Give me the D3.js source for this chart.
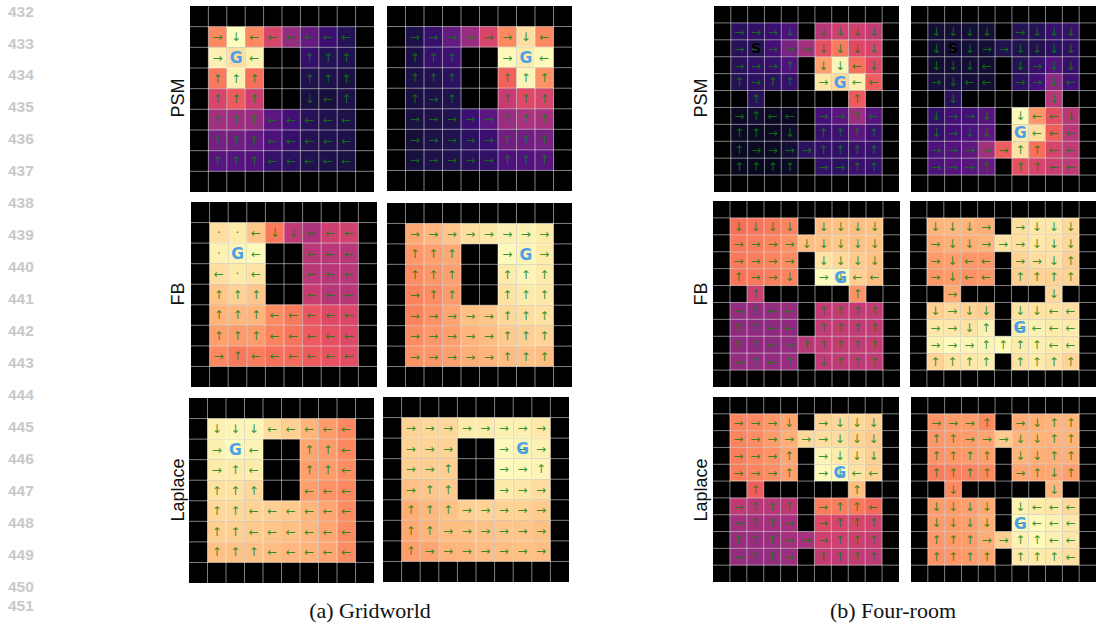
<!DOCTYPE html>
<html>
<head>
<meta charset="utf-8">
<script src="https://cdn.jsdelivr.net/npm/d3@7"></script>
<style>
  html, body { margin: 0; padding: 0; background: #fff; overflow: hidden; }
</style>
</head>
<body>
<svg id="chart" width="1097" height="623"></svg>
<script>
// value of each open cell (0-100 on the magma scale), -1 is a wall
const W = -1

const gridPsmLeft = [
    [75, 100, 75, 58, 42, 30, 20, 15],
    [97, 93, 97, W, W, 19, 15, 14],
    [72, 97, 70, W, W, 14, 13, 12],
    [58, 65, 55, W, W, 12, 11, 13],
    [45, 44, 42, 28, 22, 16, 14, 13],
    [34, 33, 30, 24, 19, 15, 14, 13],
    [27, 26, 25, 19, 17, 14, 13, 12]
]
const gridPsmRight = [
    [13, 19, 30, 43, 58, 75, 93, 75],
    [13, 19, 21, W, W, 99, 96, 99],
    [13, 14, 17, W, W, 67, 98, 77],
    [12, 13, 14, W, W, 54, 60, 58],
    [12, 13, 14, 20, 28, 43, 47, 46],
    [11, 13, 14, 17, 20, 33, 33, 34],
    [11, 13, 14, 16, 18, 24, 25, 27]
]
const gridFbLeft = [
    [93, 96, 88, 72, 52, 48, 56, 57],
    [97, 98, 99, W, W, 50, 51, 50],
    [93, 96, 94, W, W, 51, 50, 50],
    [88, 91, 88, W, W, 54, 50, 50],
    [84, 85, 84, 76, 72, 64, 60, 59],
    [80, 79, 79, 74, 71, 65, 62, 60],
    [75, 72, 73, 70, 69, 65, 63, 61]
]
const gridFbRight = [
    [82, 85, 88, 93, 95, 97, 97, 96],
    [78, 80, 82, W, W, 99, 98, 96],
    [76, 78, 80, W, W, 96, 98, 96],
    [74, 76, 79, W, W, 94, 96, 95],
    [74, 77, 81, 87, 88, 92, 93, 94],
    [76, 78, 80, 84, 86, 89, 90, 91],
    [77, 78, 80, 83, 84, 86, 87, 86]
]
const gridLaplaceLeft = [
    [97, 98, 98, 93, 90, 84, 79, 75],
    [97, 99, 98, W, W, 81, 79, 75],
    [96, 96, 96, W, W, 80, 79, 76],
    [94, 94, 92, W, W, 80, 77, 75],
    [92, 92, 91, 90, 89, 85, 81, 76],
    [90, 90, 89, 88, 87, 85, 81, 76],
    [87, 87, 87, 86, 85, 84, 81, 76]
]
const gridLaplaceRight = [
    [91, 92, 92, 96, 96, 97, 97, 95],
    [91, 91, 91, W, W, 99, 98, 97],
    [90, 90, 90, W, W, 99, 99, 98],
    [87, 88, 89, W, W, 96, 95, 93],
    [83, 85, 87, 90, 91, 91, 91, 89],
    [82, 84, 86, 87, 87, 88, 88, 87],
    [80, 81, 84, 85, 86, 86, 87, 86]
]
const roomPsmLeft = [
    [17, 18, 20, 24, W, 50, 56, 56, 53],
    [16, 15, 22, 35, 45, 62, 72, 60, 58],
    [16, 18, 19, 25, W, 80, 98, 70, 60],
    [15, 17, 17, 19, W, 95, 92, 97, 66],
    [W, 16, W, W, W, W, W, 65, W],
    [7, 9, 7, 6, W, 22, 28, 44, 26],
    [7, 7, 7, 8, W, 19, 21, 28, 21],
    [7, 7, 7, 10, 17, 18, 18, 20, 19],
    [6, 6, 6, 7, W, 18, 17, 20, 19]
]
const roomPsmRight = [
    [10, 10, 10, 10, W, 15, 15, 19, 19],
    [10, 10, 10, 10, 14, 14, 14, 17, 18],
    [9, 10, 10, 9, W, 15, 19, 26, 19],
    [11, 12, 10, 9, W, 17, 22, 40, 22],
    [W, 16, W, W, W, W, W, 50, W],
    [18, 22, 22, 26, W, 99, 78, 62, 50],
    [19, 22, 24, 28, W, 96, 93, 66, 50],
    [24, 26, 29, 45, 66, 94, 70, 58, 52],
    [24, 26, 27, 30, W, 62, 58, 55, 52]
]
const roomFbLeft = [
    [70, 71, 72, 74, W, 86, 87, 86, 87],
    [72, 73, 74, 77, 86, 87, 88, 87, 87],
    [72, 73, 74, 76, W, 94, 92, 89, 87],
    [71, 72, 73, 74, W, 99, 99, 90, 86],
    [W, 55, W, W, W, W, W, 77, W],
    [42, 42, 42, 42, W, 53, 53, 53, 53],
    [41, 41, 41, 41, W, 53, 53, 53, 53],
    [41, 41, 41, 42, 50, 53, 53, 53, 53],
    [42, 42, 42, 43, W, 52, 52, 52, 52]
]
const roomFbRight = [
    [84, 85, 84, 83, W, 93, 95, 95, 92],
    [82, 83, 83, 84, 94, 93, 95, 94, 92],
    [79, 80, 78, 78, W, 91, 93, 94, 90],
    [78, 79, 77, 78, W, 90, 91, 91, 91],
    [W, 82, W, W, W, W, W, 92, W],
    [90, 92, 91, 90, W, 94, 94, 94, 93],
    [95, 95, 94, 97, W, 97, 97, 96, 96],
    [97, 99, 98, 98, 99, 96, 97, 96, 95],
    [91, 94, 95, 96, W, 94, 96, 94, 91]
]
const roomLaplaceLeft = [
    [74, 75, 78, 81, W, 91, 92, 92, 90],
    [74, 76, 79, 83, 92, 93, 93, 91, 89],
    [73, 75, 77, 81, W, 98, 96, 93, 90],
    [73, 74, 76, 80, W, 99, 99, 94, 90],
    [W, 66, W, W, W, W, W, 86, W],
    [52, 50, 50, 51, W, 73, 73, 72, 68],
    [45, 46, 46, 46, W, 60, 58, 58, 57],
    [43, 43, 44, 46, 46, 56, 56, 55, 54],
    [42, 42, 42, 44, W, 53, 53, 53, 52]
]
const roomLaplaceRight = [
    [77, 79, 79, 75, W, 82, 83, 84, 84],
    [78, 79, 79, 81, 89, 84, 84, 84, 84],
    [77, 78, 79, 80, W, 84, 83, 83, 83],
    [73, 74, 74, 75, W, 81, 81, 82, 80],
    [W, 75, W, W, W, W, W, 85, W],
    [79, 79, 80, 82, W, 97, 96, 95, 92],
    [79, 79, 80, 83, W, 99, 99, 97, 95],
    [78, 79, 79, 83, 90, 97, 99, 97, 95],
    [77, 78, 79, 81, W, 95, 96, 95, 93]
]

// policy arrows: r l u d, "." is a dot, "_" is nothing, "#" is a wall
const gridPsmLeftArrows = ["rdllllll", "r_l##uuu", "uuu##uuu", "uuu##dlu", "uuulllll", "uuulllll", "uuulllll"]
const gridPsmRightArrows = ["rrrrrrdl", "uuu##r_l", "uuu##uuu", "uru##uuu", "rrrrruuu", "rrrrruuu", "rrrrruuu"]
const gridFbLeftArrows = ["..lddlll", "._l##lll", "l.l##lll", "uuu##lll", "uuulllll", "uuulllll", "rullllll"]
const gridFbRightArrows = ["rrrrrrrr", "uuu##r_r", "uuu##uuu", "ruu##uuu", "rrrrruuu", "rrrrruuu", "rrrrruuu"]
const gridLaplaceLeftArrows = ["dddlllll", "r_l##uul", "rul##uul", "uuu##lll", "uullllll", "uullllll", "uuulllll"]
const gridLaplaceRightArrows = ["rrrrrrrr", "rrr##rrr", "rru##rru", "ruu##rrr", "uuurrrrr", "uurrrrrr", "urrrrrrr"]
const roomPsmLeftArrows = ["rrrd#dddd", "rrrrrdddd", "rrru#ddld", "uruu#r_ll", "#u#####u#", "rull#rrul", "uurd#uuuu", "urrrruuuu", "uuuu#rruu"]
const roomPsmRightArrows = ["dddd#rddd", "dddrrdddd", "dddl#drdd", "rdll#rrdl", "#d#####d#", "drrd#dlld", "drdd#_lll", "rrrrruull", "rrru#uull"]
const roomFbLeftArrows = ["dddd#dddd", "rrrrddddd", "rrrr#dddd", "urrd#rdll", "#u#####u#", "rull#uuuu", "uull#uuuu", "uulruuuuu", "rulu#duuu"]
const roomFbRightArrows = ["dddr#rddd", "rddrrrddd", "rdll#rrdu", "rdll#uuuu", "#r#####d#", "drdd#ddll", "rrdu#llll", "rrruuuull", "uuuu#uuuu"]
const roomLaplaceLeftArrows = ["rrrd#rddd", "rrrrrrddd", "rrru#rddd", "rrru#rdll", "#u#####u#", "ruuu#ruul", "ruur#ruuu", "uuurrruuu", "ruur#uuuu"]
const roomLaplaceRightArrows = ["rrru#rduu", "uurrrdduu", "uuuu#dduu", "uuuu#rudu", "#d#####d#", "dddd#dlll", "dddd#llll", "uuurruull", "uuuu#uuul"]

const rowNames = ["PSM", "FB", "Laplace"]
const captions = ["(a) Gridworld", "(b) Four-room"]
const lineNumbers = d3.range(432, 452)

const arrowGlyphs = { r: "\u2192", l: "\u2190", u: "\u2191", d: "\u2193", ".": "\u00b7" }

// placed by eye on the page: x0, y0, x1, y1 of every panel
const panels = [
    { values: gridPsmLeft, arrows: gridPsmLeftArrows, box: [190, 6, 374, 192], goal: [1, 1] },
    { values: gridPsmRight, arrows: gridPsmRightArrows, box: [387, 6, 572, 191], goal: [6, 1] },
    { values: gridFbLeft, arrows: gridFbLeftArrows, box: [191, 202, 377, 387], goal: [1, 1] },
    { values: gridFbRight, arrows: gridFbRightArrows, box: [387, 203, 572, 387], goal: [6, 1] },
    { values: gridLaplaceLeft, arrows: gridLaplaceLeftArrows, box: [189, 398, 374, 583], goal: [1, 1] },
    { values: gridLaplaceRight, arrows: gridLaplaceRightArrows, box: [383, 397, 569, 582], goal: [6, 1] },
    { values: roomPsmLeft, arrows: roomPsmLeftArrows, box: [714, 6, 899, 192], goal: [6, 3], start: [1, 1] },
    { values: roomPsmRight, arrows: roomPsmRightArrows, box: [911, 6, 1096, 192], goal: [5, 6], start: [1, 1] },
    { values: roomFbLeft, arrows: roomFbLeftArrows, box: [713, 201, 900, 387], goal: [6, 3] },
    { values: roomFbRight, arrows: roomFbRightArrows, box: [910, 201, 1096, 387], goal: [5, 6] },
    { values: roomLaplaceLeft, arrows: roomLaplaceLeftArrows, box: [713, 397, 899, 582], goal: [6, 3] },
    { values: roomLaplaceRight, arrows: roomLaplaceRightArrows, box: [911, 397, 1096, 582], goal: [5, 6] }
]

const svg = d3.select("#chart")
const colorScale = d3.scaleSequential(d3.interpolateMagma).domain([0, 100])

panels.forEach(function (panel) {
    const [x0, y0, x1, y1] = panel.box
    const rows = panel.values.length
    const cols = panel.values[0].length

    // one black ring of cells around the open cells
    const xPositionScale = d3.scaleBand().domain(d3.range(-1, cols + 1)).range([0, x1 - x0])
    const yPositionScale = d3.scaleBand().domain(d3.range(-1, rows + 1)).range([0, y1 - y0])
    const cellW = xPositionScale.bandwidth()
    const cellH = yPositionScale.bandwidth()

    const g = svg.append("g").attr("transform", `translate(${x0},${y0})`)

    g.append("rect")
        .attr("width", x1 - x0)
        .attr("height", y1 - y0)
        .attr("fill", "#000")

    const cells = panel.values.flatMap((row, r) =>
        row.map((value, c) => ({ r, c, value, arrow: panel.arrows[r][c] }))
    ).filter(d => d.value !== W)

    g.selectAll(".cell")
        .data(cells)
        .enter()
        .append("rect")
        .attr("class", "cell")
        .attr("x", d => xPositionScale(d.c))
        .attr("y", d => yPositionScale(d.r))
        .attr("width", cellW)
        .attr("height", cellH)
        .attr("fill", d => colorScale(d.value))

    // grid lines sit on the inner cell borders
    g.selectAll(".v-line")
        .data(d3.range(0, cols + 1))
        .enter()
        .append("line")
        .attr("x1", d => xPositionScale(d))
        .attr("x2", d => xPositionScale(d))
        .attr("y1", 0)
        .attr("y2", y1 - y0)
    g.selectAll(".h-line")
        .data(d3.range(0, rows + 1))
        .enter()
        .append("line")
        .attr("x1", 0)
        .attr("x2", x1 - x0)
        .attr("y1", d => yPositionScale(d))
        .attr("y2", d => yPositionScale(d))
    g.selectAll("line")
        .attr("stroke", "#fff")
        .attr("stroke-opacity", 0.5)
        .attr("stroke-width", 1)

    g.selectAll(".arrow")
        .data(cells.filter(d => arrowGlyphs[d.arrow]))
        .enter()
        .append("text")
        .attr("class", "arrow")
        .attr("x", d => xPositionScale(d.c) + cellW / 2)
        .attr("y", d => yPositionScale(d.r) + cellH / 2)
        .attr("dy", "0.36em")
        .attr("text-anchor", "middle")
        .attr("font-family", "DejaVu Sans")
        .attr("font-size", 12)
        .attr("fill", "#0a800a")
        .attr("fill-opacity", 0.82)
        .text(d => arrowGlyphs[d.arrow])

    if (panel.start) {
        g.append("text")
            .attr("x", xPositionScale(panel.start[0]) + cellW / 2)
            .attr("y", yPositionScale(panel.start[1]) + cellH / 2)
            .attr("dy", "0.36em")
            .attr("text-anchor", "middle")
            .attr("font-family", "DejaVu Sans")
            .attr("font-weight", "bold")
            .attr("font-size", 14)
            .attr("fill", "#000")
            .text("S")
    }

    g.append("text")
        .attr("x", xPositionScale(panel.goal[0]) + cellW / 2)
        .attr("y", yPositionScale(panel.goal[1]) + cellH / 2)
        .attr("dy", "0.36em")
        .attr("text-anchor", "middle")
        .attr("font-family", "DejaVu Sans")
        .attr("font-weight", "bold")
        .attr("font-size", 15.5)
        .attr("fill", "#4a9fe8")
        .text("G")
})

// row names next to each pair of panels
const rowLabelY = d3.scalePoint().domain(rowNames).range([98, 490])
;[178, 701].forEach(function (x) {
    svg.selectAll(null)
        .data(rowNames)
        .enter()
        .append("text")
        .attr("transform", d => `translate(${x},${rowLabelY(d)}) rotate(-90)`)
        .attr("dy", "0.36em")
        .attr("text-anchor", "middle")
        .attr("font-family", "Liberation Sans")
        .attr("font-size", 18)
        .attr("fill", "#111")
        .text(d => d)
})

const captionX = d3.scalePoint().domain(captions).range([370, 893])
svg.selectAll(".caption")
    .data(captions)
    .enter()
    .append("text")
    .attr("class", "caption")
    .attr("x", d => captionX(d))
    .attr("y", 618)
    .attr("text-anchor", "middle")
    .attr("font-family", "Liberation Serif")
    .attr("font-size", 22)
    .attr("fill", "#111")
    .text(d => d)

// line numbers in the page margin, the last one is squeezed in the source
const lineY = d3.scaleLinear().domain([432, 450]).range([11, 586])
svg.selectAll(".line-number")
    .data(lineNumbers)
    .enter()
    .append("text")
    .attr("class", "line-number")
    .attr("x", 8)
    .attr("y", d => (d === 451 ? 605 : lineY(d)))
    .attr("dy", "0.36em")
    .attr("font-family", "Liberation Sans")
    .attr("font-weight", "bold")
    .attr("font-size", 15.5)
    .attr("fill", "#c9c9c9")
    .text(d => d)
</script>
</body>
</html>
